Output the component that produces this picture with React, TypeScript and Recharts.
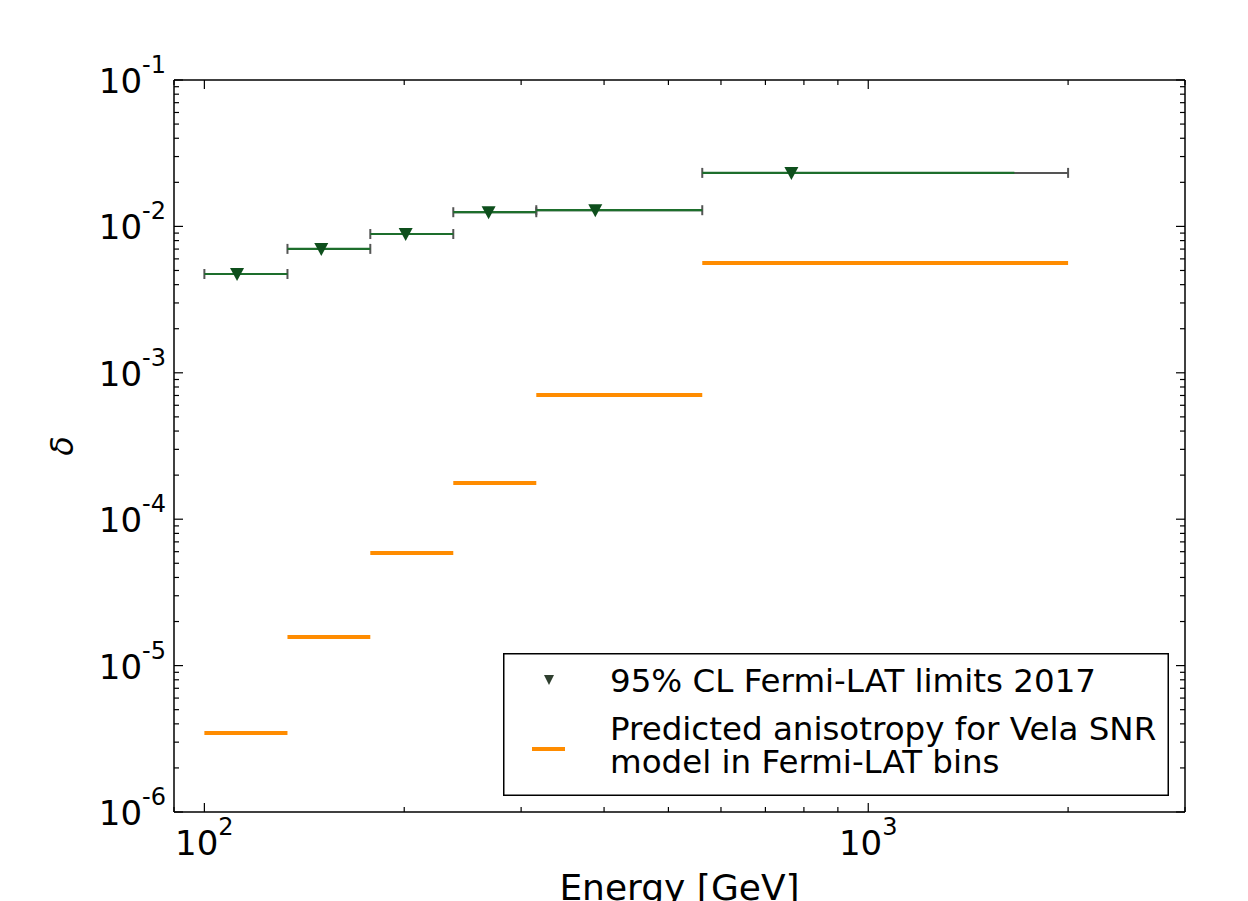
import React from 'react';
import {
  ScatterChart,
  Scatter,
  XAxis,
  YAxis,
  ErrorBar,
  Legend,
} from 'recharts';

// Fermi-LAT energy bins [GeV]
const binEdges = [100, 133.4, 177.8, 237.1, 316.2, 562.3, 2000];
// 95% CL upper limits
const limitEnergy = [112, 150, 201, 268, 388, 766];
const limitDelta = [4.73e-3, 7.02e-3, 8.87e-3, 1.25e-2, 1.29e-2, 2.32e-2];
// where the green part of each bar stops (last bin is shorter than the grey bar)
const limitGreenEnd = [133.4, 177.8, 237.1, 316.2, 562.3, 1660];
// predicted anisotropy, Vela SNR model
const predictedDelta = [3.47e-6, 1.57e-5, 5.87e-5, 1.77e-4, 7.05e-4, 5.62e-3];

const xDomain = [90, 3000];
const yDomain = [1e-6, 1e-1];
const xTicks = [90, 100, 200, 300, 400, 500, 600, 700, 800, 900, 1000, 2000, 3000];
const yMajors = [1e-6, 1e-5, 1e-4, 1e-3, 1e-2, 1e-1];

const yTicks: number[] = [];
yMajors.forEach((d, i) => {
  yTicks.push(d);
  if (i < yMajors.length - 1) {
    for (let k = 2; k <= 9; k++) yTicks.push(k * d);
  }
});

const limitData = limitEnergy.map((e, i) => ({
  x: e,
  y: limitDelta[i],
  err: [e - binEdges[i], binEdges[i + 1] - e],
  errGreen: [e - binEdges[i], limitGreenEnd[i] - e],
}));

const predictedData = predictedDelta.map((v, i) => {
  const c = Math.sqrt(binEdges[i] * binEdges[i + 1]);
  return { x: c, y: v, err: [c - binEdges[i], binEdges[i + 1] - c] };
});

const FONT = '"DejaVu Sans", sans-serif';

function isMajor(v: number) {
  const l = Math.log10(v);
  return Math.abs(l - Math.round(l)) < 1e-6;
}

function Power({ x, y, exp, anchor }: any) {
  return (
    <text x={x} y={y} textAnchor={anchor} fontFamily={FONT} fill="#000">
      <tspan fontSize={34}>10</tspan>
      <tspan fontSize={24} dy={-20}>{exp}</tspan>
    </text>
  );
}

const LeftTick = (props: any) => {
  const { x, y, payload } = props;
  const major = isMajor(payload.value);
  return (
    <g>
      <line x1={x} y1={y} x2={x + (major ? 9 : 5)} y2={y} stroke="#000" strokeWidth={1.2} />
      {major && <Power x={x - 8} y={y + 13} exp={String(Math.round(Math.log10(payload.value)))} anchor="end" />}
    </g>
  );
};

const RightTick = (props: any) => {
  const { x, y, payload } = props;
  const major = isMajor(payload.value);
  return <line x1={x} y1={y} x2={x - (major ? 9 : 5)} y2={y} stroke="#000" strokeWidth={1.2} />;
};

const BottomTick = (props: any) => {
  const { x, y, payload } = props;
  const major = isMajor(payload.value);
  return (
    <g>
      <line x1={x} y1={y} x2={x} y2={y - (major ? 9 : 5)} stroke="#000" strokeWidth={1.2} />
      {major && <Power x={x} y={y + 43} exp={String(Math.round(Math.log10(payload.value)))} anchor="middle" />}
    </g>
  );
};

const TopTick = (props: any) => {
  const { x, y, payload } = props;
  const major = isMajor(payload.value);
  return <line x1={x} y1={y} x2={x} y2={y + (major ? 9 : 5)} stroke="#000" strokeWidth={1.2} />;
};

const DownTriangle = (props: any) => {
  const { cx, cy } = props;
  if (cx == null || cy == null) return <g />;
  return <path d={`M${cx - 7},${cy - 6} L${cx + 7},${cy - 6} L${cx},${cy + 7} Z`} fill="#0e4f1c" />;
};

const LegendBox = () => (
  <svg width={666} height={143} style={{ display: 'block' }}>
    <rect x={0.75} y={0.75} width={664.5} height={141.5} fill="#fff" stroke="#000" strokeWidth={1.5} />
    <path d="M41,22 L51,22 L46,32 Z" fill="#2f3f2f" />
    <text x={107} y={39} fontFamily={FONT} fontSize={32.5} fill="#000">95% CL Fermi-LAT limits 2017</text>
    <line x1={29} y1={96} x2={62} y2={96} stroke="#ff8c00" strokeWidth={4} />
    <text x={107} y={87} fontFamily={FONT} fontSize={32.5} fill="#000">Predicted anisotropy for Vela SNR</text>
    <text x={107} y={120} fontFamily={FONT} fontSize={32.5} fill="#000">model in Fermi-LAT bins</text>
  </svg>
);

export default function App() {
  return (
    <div style={{ position: 'absolute', left: 0, top: 0, background: '#fff' }}>
      <ScatterChart
        width={1248}
        height={901}
        margin={{ top: 79, right: 62, left: 0, bottom: 0 }}
      >
        <XAxis
          xAxisId="bottom"
          dataKey="x"
          type="number"
          scale="log"
          domain={xDomain}
          allowDataOverflow
          ticks={xTicks}
          interval={0}
          height={89}
          tickSize={0}
          tickMargin={0}
          tickLine={false}
          axisLine={{ stroke: '#000', strokeWidth: 1.5 }}
          tick={BottomTick}
          label={{
            content: ({ viewBox }: any) => (
              <text
                x={viewBox.x + viewBox.width / 2}
                y={viewBox.y + 88}
                textAnchor="middle"
                fontFamily={FONT}
                fontSize={36}
                fill="#000"
              >
                Energy [GeV]
              </text>
            ),
          }}
        />
        <XAxis
          xAxisId="top"
          orientation="top"
          dataKey="x"
          type="number"
          scale="log"
          domain={xDomain}
          allowDataOverflow
          ticks={xTicks}
          interval={0}
          height={1}
          tickSize={0}
          tickMargin={0}
          tickLine={false}
          axisLine={{ stroke: '#000', strokeWidth: 1.5 }}
          tick={TopTick}
        />
        <YAxis
          yAxisId="left"
          dataKey="y"
          type="number"
          scale="log"
          domain={yDomain}
          allowDataOverflow
          ticks={yTicks}
          interval={0}
          width={174}
          tickSize={0}
          tickMargin={0}
          tickLine={false}
          axisLine={{ stroke: '#000', strokeWidth: 1.5 }}
          tick={LeftTick}
          label={{
            content: ({ viewBox }: any) => (
              <text
                x={62}
                y={viewBox.y + viewBox.height / 2}
                transform={`rotate(-90, 62, ${viewBox.y + viewBox.height / 2})`}
                textAnchor="middle"
                dominantBaseline="central"
                fontFamily={FONT}
                fontStyle="italic"
                fontSize={32}
                fill="#000"
              >
                δ
              </text>
            ),
          }}
        />
        <YAxis
          yAxisId="right"
          orientation="right"
          dataKey="y"
          type="number"
          scale="log"
          domain={yDomain}
          allowDataOverflow
          ticks={yTicks}
          interval={0}
          width={1}
          tickSize={0}
          tickMargin={0}
          tickLine={false}
          axisLine={{ stroke: '#000', strokeWidth: 1.5 }}
          tick={RightTick}
        />
        <Scatter
          name="Predicted anisotropy for Vela SNR model in Fermi-LAT bins"
          data={predictedData}
          xAxisId="top"
          yAxisId="right"
          shape={() => <g />}
          isAnimationActive={false}
        >
          <ErrorBar dataKey="err" direction="x" width={0} stroke="#ff8c00" strokeWidth={4} isAnimationActive={false} />
        </Scatter>
        <Scatter
          name="95% CL Fermi-LAT limits 2017"
          data={limitData}
          xAxisId="bottom"
          yAxisId="left"
          shape={DownTriangle}
          isAnimationActive={false}
        >
          <ErrorBar dataKey="err" direction="x" width={5} stroke="#555" strokeWidth={2} isAnimationActive={false} />
          <ErrorBar dataKey="errGreen" direction="x" width={0} stroke="#1d6e2c" strokeWidth={2.2} isAnimationActive={false} />
        </Scatter>
        <Legend
          layout="horizontal"
          verticalAlign="middle"
          align="center"
          wrapperStyle={{ left: 503, top: 653, width: 666, height: 143 }}
          content={() => <LegendBox />}
        />
      </ScatterChart>
    </div>
  );
}
